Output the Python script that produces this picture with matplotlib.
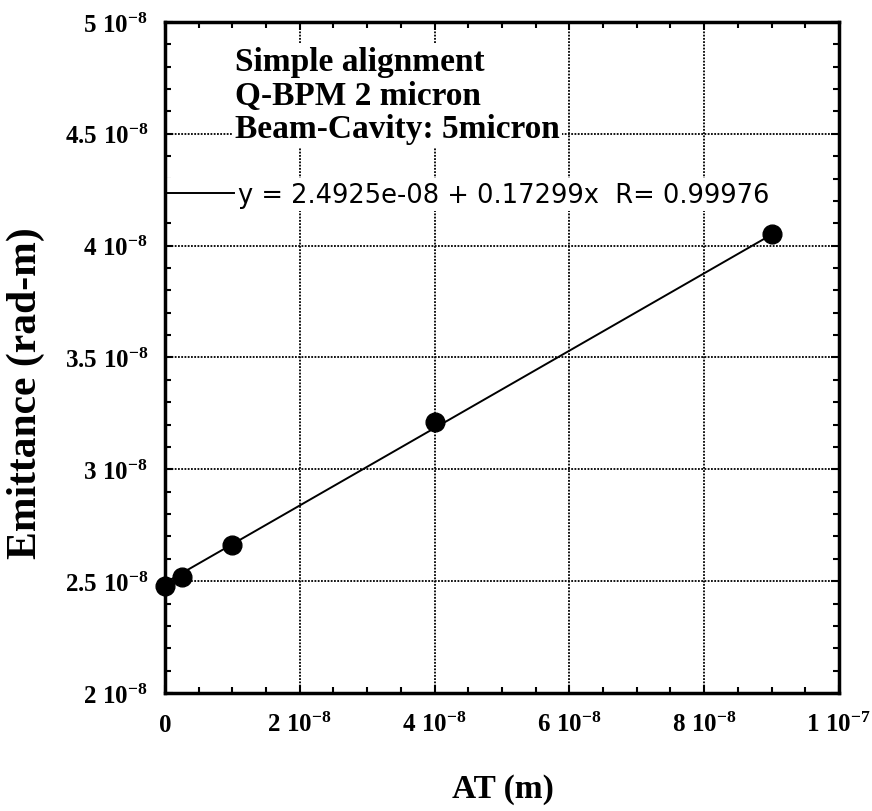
import math
import numpy as np
import matplotlib
matplotlib.use("Agg")
import matplotlib.pyplot as plt
from matplotlib.ticker import MultipleLocator, FuncFormatter

# Measured emittance versus AT
at_m = [0.0, 0.25e-8, 1.0e-8, 4.0e-8, 9.0e-8]
emittance = [2.48e-8, 2.52e-8, 2.66e-8, 3.21e-8, 4.05e-8]

# Linear fit reported on the chart
fit_intercept = 2.4925e-08
fit_slope = 0.17299
fit_r = 0.99976

annotation_lines = ["Simple alignment", "Q-BPM 2 micron", "Beam-Cavity: 5micron"]
x_label = "AT (m)"
y_label = "Emittance (rad-m)"

plt.rcParams["mathtext.fontset"] = "custom"
plt.rcParams["mathtext.rm"] = "Liberation Serif:bold"
plt.rcParams["mathtext.it"] = "Liberation Serif:bold"
plt.rcParams["mathtext.bf"] = "Liberation Serif:bold"
plt.rcParams["mathtext.default"] = "rm"

SERIF = "Liberation Serif"


def sci_label(v, pos):
    if abs(v) < 1e-20:
        return r"$0$"
    exp = math.floor(math.log10(abs(v)) + 1e-9)
    mant = round(v / 10 ** exp, 3)
    mant_s = ("%g" % mant)
    return r"$%s\ 10^{%d}$" % (mant_s, exp)


fig = plt.figure(figsize=(8.72, 8.12), dpi=100)
ax = fig.add_axes([0.1892, 0.1453, 0.7729, 0.8264])

at = np.array(at_m)
em = np.array(emittance)
xfit = np.array([at.min(), at.max()])
yfit = fit_intercept + fit_slope * xfit

label = "y = %.4e + %.5fx  R= %.5f" % (fit_intercept, fit_slope, fit_r)
ax.plot(xfit, yfit, color="black", lw=1.4, zorder=3, label=label)
ax.plot(at, em, "o", color="black", markersize=13.5, zorder=4, clip_on=False)

ax.set_xlim(0, 1e-7)
ax.set_ylim(2e-8, 5e-8)
ax.xaxis.set_major_locator(MultipleLocator(2e-8))
ax.xaxis.set_minor_locator(MultipleLocator(0.5e-8))
ax.yaxis.set_major_locator(MultipleLocator(0.5e-8))
ax.yaxis.set_minor_locator(MultipleLocator(0.1e-8))
ax.xaxis.set_major_formatter(FuncFormatter(sci_label))
ax.yaxis.set_major_formatter(FuncFormatter(sci_label))

ax.set_axisbelow(True)
ax.grid(True, which="major", color="black", lw=1.3, linestyle=(0, (1, 0.8)))

for sp in ax.spines.values():
    sp.set_linewidth(2.5)

ax.tick_params(which="both", direction="in", top=True, right=True,
               width=1.5, colors="black")
ax.tick_params(which="major", length=6)
ax.tick_params(which="minor", length=4.5)
ax.tick_params(axis="y", which="major", pad=12, labelsize=18)
ax.tick_params(axis="x", which="major", pad=27, labelsize=18)

fig.canvas.draw()
for t in ax.xaxis.get_major_ticks():
    t.label1.set_verticalalignment("baseline")

ax.set_xlabel(x_label, fontsize=24, fontfamily=SERIF, fontweight="bold",
              va="center")
ax.xaxis.set_label_coords(0.5015, -0.1416)
ax.set_ylabel(y_label, fontsize=30, fontfamily=SERIF, fontweight="bold",
              va="center")
ax.yaxis.set_label_coords(-0.207, 0.449)

ax.text(0.104, 0.8286, "\n".join(annotation_lines), transform=ax.transAxes,
        ha="left", va="baseline", fontsize=24, fontfamily=SERIF,
        fontweight="bold", linespacing=1.1, zorder=2.4,
        bbox=dict(facecolor="white", edgecolor="none", pad=2))

leg = ax.legend(loc="upper left", bbox_to_anchor=(-0.004, 0.768),
                borderaxespad=0, borderpad=0.15, handlelength=2.65,
                handletextpad=0.16, fancybox=False, framealpha=1,
                facecolor="white", edgecolor="none",
                prop={"family": "DejaVu Sans", "size": 18.5})
leg.set_zorder(2.4)

fig.savefig("out.png", dpi=100)
